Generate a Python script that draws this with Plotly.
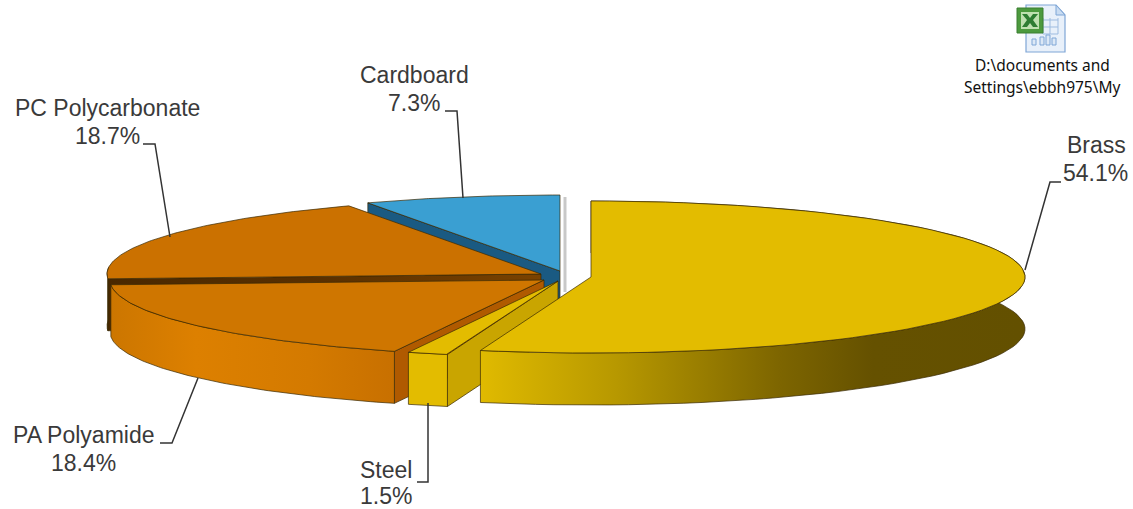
import numpy as np
import plotly.graph_objects as go

# ---- data ----
categories = ["Brass", "Steel", "PA Polyamide", "PC Polycarbonate", "Cardboard"]
shares = [54.1, 1.5, 18.4, 18.7, 7.3]

# ---- pie geometry (pixel-like axis units) ----
RX, RY, DEPTH = 434, 76, 52
APEX = {
    "Brass": (591, 277),
    "Steel": (558, 281),
    "PA Polyamide": (544, 280),
    "PC Polycarbonate": (541, 274),
    "Cardboard": (560, 271),
}
TOP = {"Brass": "#E3BC00", "Steel": "#E3BC00", "PA Polyamide": "#CF7600",
       "PC Polycarbonate": "#CB7100", "Cardboard": "#3A9FD2"}
OUT = "#3A2A05"

cum = np.cumsum([0] + shares) * 3.6
ANG = {c: (cum[i], cum[i + 1]) for i, c in enumerate(categories)}


def rim(cat, a0, a1, n=80):
    t = np.radians(np.linspace(a0, a1, n))
    ax, ay = APEX[cat]
    return ax + RX * np.sin(t), ay - RY * np.cos(t)


def pt(cat, a):
    x, y = rim(cat, a, a, 1)
    return float(x[0]), float(y[0])


fig = go.Figure()


def poly(xs, ys, color=None, grad=None, lw=0.7, line=OUT):
    xs, ys = list(xs), list(ys)
    tr = dict(x=xs + xs[:1], y=ys + ys[:1], mode="lines", fill="toself",
              line=dict(color=line, width=lw), hoverinfo="skip", showlegend=False)
    if grad:
        tr["fillgradient"] = dict(type="horizontal", colorscale=grad)
    else:
        tr["fillcolor"] = color
    fig.add_trace(go.Scatter(**tr))


def top(cat):
    a0, a1 = ANG[cat]
    x, y = rim(cat, a0, a1)
    ax, ay = APEX[cat]
    poly([ax] + list(x), [ay] + list(y), TOP[cat])


def cut_wall(cat, a, color, grad=None):
    ax, ay = APEX[cat]
    px, py = pt(cat, a)
    poly([ax, px, px, ax], [ay, py, py + DEPTH, ay + DEPTH], color, grad)


def rim_wall(cat, a0, a1, color=None, grad=None):
    x, y = rim(cat, a0, a1)
    poly(list(x) + list(x[::-1]), list(y) + list((y + DEPTH)[::-1]), color, grad)


# Cardboard
cut_wall("Cardboard", ANG["Cardboard"][0], "#1A5A82")
top("Cardboard")
# PC Polycarbonate
cut_wall("PC Polycarbonate", ANG["PC Polycarbonate"][0], None,
         [[0, "#4A2800"], [0.5, "#5A3000"], [1, "#7A4200"]])
rim_wall("PC Polycarbonate", ANG["PC Polycarbonate"][0], 275, "#5A3000")
top("PC Polycarbonate")
# PA Polyamide
cut_wall("PA Polyamide", ANG["PA Polyamide"][0], "#B05A00")
rim_wall("PA Polyamide", *ANG["PA Polyamide"],
         grad=[[0, "#CC7600"], [0.3, "#DD8000"], [0.7, "#D47A00"], [1, "#C87000"]])
top("PA Polyamide")
# Steel
cut_wall("Steel", ANG["Steel"][0], "#C9A500")
rim_wall("Steel", *ANG["Steel"], color="#E3BC00")
top("Steel")
# Brass
rim_wall("Brass", *ANG["Brass"],
         grad=[[0, "#E0BA00"], [0.25, "#B79800"], [0.55, "#7D6500"], [0.72, "#655100"], [1, "#635000"]])
top("Brass")

# light vertical shade in the gap
fig.add_shape(type="line", x0=565, x1=565, y0=197, y1=292,
              line=dict(color="#C8C8C8", width=3), layer="above")

# ---- leader lines ----
LEADERS = {
    "Brass": ([1061, 1050, 1025], [182, 182, 270]),
    "Steel": ([417, 428, 428], [482, 482, 403]),
    "PA Polyamide": ([160, 172, 198], [443, 443, 378]),
    "PC Polycarbonate": ([143, 155, 170], [144, 144, 237]),
    "Cardboard": ([445, 457, 463], [111, 111, 198]),
}
for c, (lx, ly) in LEADERS.items():
    fig.add_trace(go.Scatter(x=lx, y=ly, mode="lines", line=dict(color="#333333", width=1.5),
                             hoverinfo="skip", showlegend=False))

# ---- labels ----
LABEL_POS = {
    "Brass": (1096, 145, 1095, 173),
    "Steel": (386, 470, 386, 496),
    "PA Polyamide": (83, 435, 83, 463),
    "PC Polycarbonate": (107, 108, 107, 136),
    "Cardboard": (414, 75, 414, 103),
}
annotations = []
for c, v in zip(categories, shares):
    x1, y1, x2, y2 = LABEL_POS[c]
    for txt, xx, yy in ((c, x1, y1), (f"{v}%", x2, y2)):
        annotations.append(dict(x=xx, y=yy, text=txt, showarrow=False, xref="x", yref="y",
                                xanchor="center", yanchor="middle",
                                font=dict(family="Liberation Sans", size=23, color="#3A3A3A")))

# ---- embedded-file icon and caption ----
icon_caption = ["D:\\documents and", "Settings\\ebbh975\\My"]
for txt, yy in zip(icon_caption, (65, 87)):
    annotations.append(dict(x=1042, y=yy, text=txt, showarrow=False, xref="x", yref="y",
                            xanchor="center", yanchor="middle",
                            font=dict(family="Noto Sans", size=15.5, color="#111111")))

shapes = [
    dict(type="path", path="M1026,5 L1056,5 L1065,15 L1065,52 L1026,52 Z",
         fillcolor="#E8F0FA", line=dict(color="#7FA6D6", width=1.2)),
    dict(type="path", path="M1056,5 L1056,15 L1065,15 Z",
         fillcolor="#C9DCF2", line=dict(color="#7FA6D6", width=1)),
]
for yy in (20, 27, 34):
    shapes.append(dict(type="line", x0=1043, x1=1058, y0=yy, y1=yy, line=dict(color="#9DBBE0", width=1)))
for xx in (1043, 1050, 1058):
    shapes.append(dict(type="line", x0=xx, x1=xx, y0=18, y1=34, line=dict(color="#9DBBE0", width=1)))
for x0, y0 in ((1032, 39), (1040, 37), (1046, 35), (1052, 38)):
    shapes.append(dict(type="rect", x0=x0, x1=x0 + 4, y0=y0, y1=45,
                       fillcolor="#DCE8F6", line=dict(color="#7FA6D6", width=1)))
shapes += [
    dict(type="rect", x0=1017, x1=1043, y0=8, y1=33, fillcolor="#4C9A3E", line=dict(color="#3B7F30", width=1)),
    dict(type="rect", x0=1021, x1=1039, y0=12, y1=29, fillcolor="#BFE0B0", line=dict(width=0)),
    dict(type="path", path="M1022,14 L1027,14 L1030,18 L1033,14 L1038,14 L1033,20 L1038,27 L1033,27 L1030,23 L1027,27 L1022,27 L1027,20 Z",
         fillcolor="#2E7D32", line=dict(width=0)),
]
for s in shapes:
    fig.add_shape(**s, xref="x", yref="y", layer="above")

fig.update_layout(
    width=1133, height=509, margin=dict(l=0, r=0, t=0, b=0),
    paper_bgcolor="white", plot_bgcolor="white", showlegend=False,
    annotations=annotations,
    xaxis=dict(range=[0, 1133], visible=False, fixedrange=True),
    yaxis=dict(range=[509, 0], visible=False, fixedrange=True),
)
fig.write_html("out.html", config={"displayModeBar": False},
               post_script="document.body.style.margin='0';")
